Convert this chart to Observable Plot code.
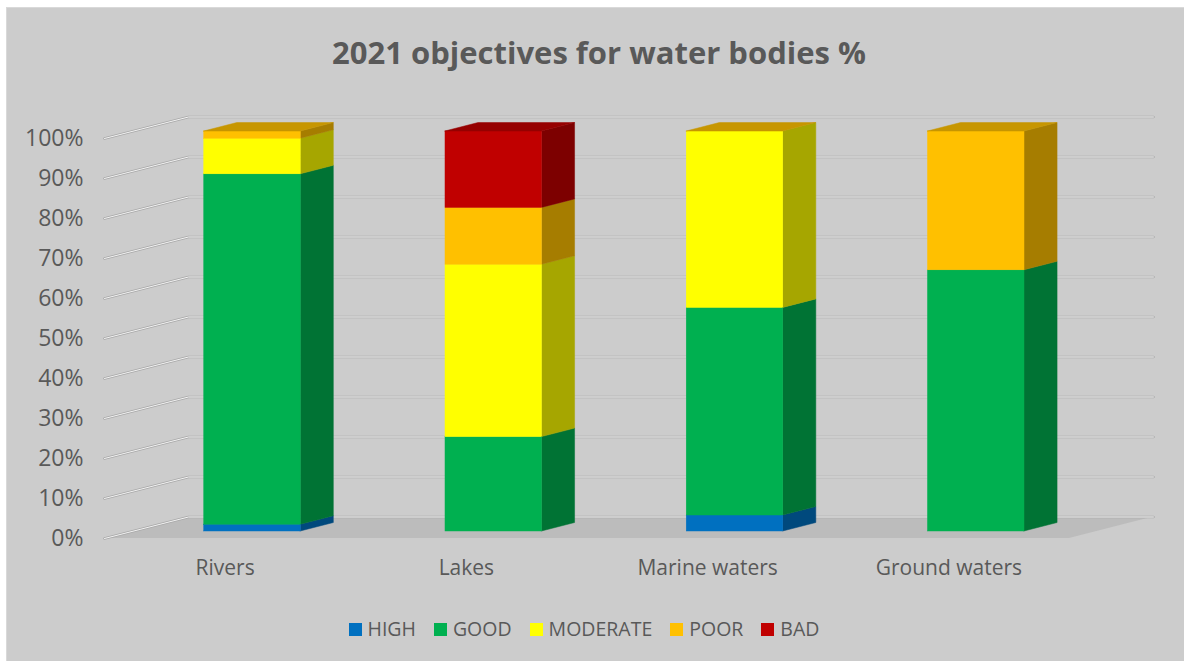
<!DOCTYPE html>
<html>
<head>
<meta charset="utf-8">
<script src="https://cdn.jsdelivr.net/npm/d3@7"></script>
<script src="https://cdn.jsdelivr.net/npm/@observablehq/plot@0.6"></script>
<style>
  html, body { margin: 0; padding: 0; background: #ffffff; }
  #chart {
    position: absolute; left: 6px; top: 7px; width: 1178px; height: 654px;
    background: #cccccc; border-left: 1px solid #d9d9d9; border-top: 1px solid #d9d9d9;
    font-family: "Open Sans", sans-serif; color: #595959; overflow: hidden;
  }
  #title {
    position: absolute; left: 0; width: 100%; top: 22px; text-align: center;
    font-weight: 700; font-size: 31px; line-height: 44px; padding-left: 6px; box-sizing: border-box;
  }
  #plot { position: absolute; left: 0; top: 92px; }
  #legend {
    position: absolute; left: 0; width: 100%; top: 606px; display: flex; justify-content: center;
    align-items: center; font-size: 19.5px; line-height: 30px; padding-right: 24px; box-sizing: border-box;
  }
  #legend .item { display: flex; align-items: center; margin: 0 9px; }
  #legend .sw { width: 13px; height: 13px; margin-right: 6px; }
</style>
</head>
<body>
<div id="chart">
  <div id="title">2021 objectives for water bodies %</div>
  <div id="plot"></div>
  <div id="legend"></div>
</div>
<script>
// Share of water bodies (%) by 2021 objective status
const categories = ["Rivers", "Lakes", "Marine waters", "Ground waters"];
const levels = ["HIGH", "GOOD", "MODERATE", "POOR", "BAD"];
const high = [1.7, 0, 4.0, 0];
const good = [87.6, 23.6, 51.9, 65.3];
const moderate = [8.9, 43.1, 44.1, 0];
const poor = [1.8, 14.2, 0, 34.7];
const bad = [null, 19.1, null, null];   // null: status not reported
const levelColors = ["#0070C0", "#00B050", "#FFFF00", "#FFC000", "#C00000"];
const yTicks = [0, 10, 20, 30, 40, 50, 60, 70, 80, 90, 100];

// Oblique 3D projection: depth d in [0, 1] shifts right and up in data units
const DEPTH_U = 0.348;   // x shift (category slots) at full depth
const DEPTH_V = 5.375;   // y shift (percent) at full depth
const D0 = 0.326, D1 = 0.72;   // front and back planes of the columns
const HALF = 0.2;              // half width of a column, in slots
const px = (u, d) => u + DEPTH_U * d;
const py = (v, d) => v + DEPTH_V * d;
const sideShade = c => d3.rgb(c).darker(1.2).formatHex();
const topShade = c => d3.rgb(c).darker(0.7).formatHex();

const seriesValues = [high, good, moderate, poor, bad];
const segments = [];
const tops = [];
categories.forEach((cat, i) => {
  let base = 0, topLevel = null;
  seriesValues.forEach((vals, k) => {
    const v = vals[i];
    if (v == null) return;
    if (v > 0) segments.push({cat, i, k, lo: base, hi: base + v});
    base += v;
    topLevel = k;
  });
  tops.push({i, top: base, k: topLevel});
});

const sidePts = segments.flatMap(s => [D0, D1].map(d => ({
  key: s.i + "-" + s.k, u: px(s.i + 0.5 + HALF, d),
  lo: py(s.lo, d), hi: py(s.hi, d), fill: sideShade(levelColors[s.k])
})));
const topPts = tops.flatMap(t => [D0, D1].map(d => ({
  key: t.i, v: py(t.top, d),
  ul: px(t.i + 0.5 - HALF, d), ur: px(t.i + 0.5 + HALF, d),
  fill: topShade(levelColors[t.k])
})));
const gridPts = yTicks.flatMap(v => [[0, 0], [0, 1], [4, 1]].map(([u, d]) => ({v, x: px(u, d), y: py(v, d)})));
const floorPts = [0, 1].map(d => ({y: py(0, d), x1: px(0, d), x2: px(4, d)}));

const chart = Plot.plot({
  width: 1178, height: 490,
  marginLeft: 97, marginRight: 116, marginTop: 38, marginBottom: 52,
  x: {domain: [0, 4], axis: null},
  y: {domain: [0, 100], axis: null},
  color: {type: "identity"},
  style: {background: "transparent", fontFamily: "Open Sans, sans-serif", fontSize: "20px", color: "#595959", overflow: "visible"},
  marks: [
    Plot.areaX(floorPts, {y: "y", x1: "x1", x2: "x2", fill: "#bcbcbc"}),
    Plot.line(gridPts, {x: "x", y: "y", z: "v", stroke: "#a9a9a9", strokeWidth: 2.6}),
    Plot.line(gridPts, {x: "x", y: "y", z: "v", stroke: "#f2f2f2", strokeWidth: 1}),
    Plot.areaY(sidePts, {x: "u", y1: "lo", y2: "hi", z: "key", fill: "fill", stroke: "fill", strokeWidth: 0.5}),
    Plot.rect(segments, {
      x1: s => px(s.i + 0.5 - HALF, D0), x2: s => px(s.i + 0.5 + HALF, D0),
      y1: s => py(s.lo, D0), y2: s => py(s.hi, D0),
      fill: s => levelColors[s.k], stroke: s => levelColors[s.k], strokeWidth: 0.5
    }),
    Plot.areaX(topPts, {y: "v", x1: "ul", x2: "ur", z: "key", fill: "fill", stroke: "fill", strokeWidth: 0.5}),
    Plot.text(yTicks, {x: () => 0, y: d => d, text: d => d + "%", textAnchor: "end", dx: -21, fill: "#595959", fontSize: 23}),
    Plot.text(categories, {x: (d, i) => i + 0.5, y: () => 0, text: d => d, dy: 30, fill: "#595959", fontSize: 21})
  ]
});
document.getElementById("plot").appendChild(chart);

// Legend built from the same level names and colours
const legend = document.getElementById("legend");
levels.forEach((name, k) => {
  const item = document.createElement("div");
  item.className = "item";
  const sw = document.createElement("div");
  sw.className = "sw";
  sw.style.background = levelColors[k];
  const label = document.createElement("span");
  label.textContent = name;
  item.appendChild(sw);
  item.appendChild(label);
  legend.appendChild(item);
});
</script>
</body>
</html>
